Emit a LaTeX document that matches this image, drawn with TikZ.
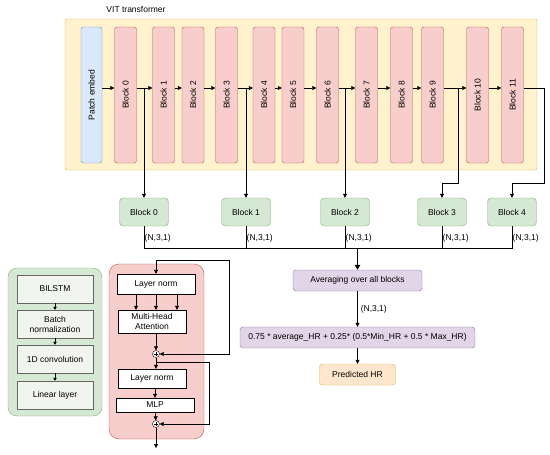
\documentclass[tikz,border=0pt]{standalone}
\usepackage{fontspec}
\setmainfont{Liberation Sans}
\usepackage{tikz}
\usetikzlibrary{arrows.meta,positioning,shapes.geometric}

\definecolor{vitfill}{HTML}{FFF2CC}
\definecolor{vitdraw}{HTML}{D6B656}
\definecolor{blkfill}{HTML}{F8CECC}
\definecolor{blkdraw}{HTML}{B85450}
\definecolor{embfill}{HTML}{DAE8FC}
\definecolor{embdraw}{HTML}{6C8EBF}
\definecolor{grnfill}{HTML}{D5E8D4}
\definecolor{grndraw}{HTML}{82B366}
\definecolor{purfill}{HTML}{E1D5E7}
\definecolor{purdraw}{HTML}{9673A6}
\definecolor{orgfill}{HTML}{FFE6CC}
\definecolor{orgdraw}{HTML}{D6B656}
\definecolor{gryfill}{HTML}{F2F4F0}
\definecolor{grydraw}{HTML}{666666}

\begin{document}
\begin{tikzpicture}[
	x=1pt, y=-1pt,
	font=\fontsize{8.5}{10}\selectfont,
	vblock/.style={rectangle, rounded corners=2.5pt, draw=blkdraw, fill=blkfill, minimum width=22pt, minimum height=136pt, inner sep=0pt},
	outblock/.style={rectangle, rounded corners=4pt, draw=grndraw, fill=grnfill, minimum width=49pt, minimum height=28pt},
	proc/.style={rectangle, rounded corners=3pt, draw=purdraw, fill=purfill, minimum height=21pt, align=center, inner sep=1pt},
	layer/.style={rectangle, draw=grydraw, fill=gryfill, minimum width=76pt, minimum height=28pt, align=center, inner sep=1pt},
	enc/.style={rectangle, draw=black, fill=white, align=center, inner sep=1pt},
	plus/.style={circle, draw=black, fill=white, inner sep=0pt, minimum size=7pt},
	shape lbl/.style={inner sep=0.5pt, anchor=west},
	line/.style={-{Triangle[width=4pt,length=4pt]}, line width=0.6pt},
	bus/.style={line width=0.6pt}
]
\useasboundingbox (0,0) rectangle (550,455);

% ViT backbone
\node (title) at (136,9) {VIT transformer};
\node[rectangle, rounded corners=2pt, draw=vitdraw, fill=vitfill, minimum width=472pt, minimum height=151pt] (vit) at (301,94.5) {};
\node[vblock, draw=embdraw, fill=embfill, minimum width=21pt] (pe) at (91.5,95) {\rotatebox{90}{Patch embed}};
\node[vblock] (b0) at (125.5,95) {\rotatebox{90}{Block 0}};
\node[vblock] (b1) at (163.5,95) {\rotatebox{90}{Block 1}};
\node[vblock] (b2) at (193,95) {\rotatebox{90}{Block 2}};
\node[vblock] (b3) at (226.5,95) {\rotatebox{90}{Block 3}};
\node[vblock] (b4) at (264,95) {\rotatebox{90}{Block 4}};
\node[vblock] (b5) at (293,95) {\rotatebox{90}{Block 5}};
\node[vblock] (b6) at (327.5,95) {\rotatebox{90}{Block 6}};
\node[vblock] (b7) at (366.5,95) {\rotatebox{90}{Block 7}};
\node[vblock] (b8) at (401.5,95) {\rotatebox{90}{Block 8}};
\node[vblock] (b9) at (432.5,95) {\rotatebox{90}{Block 9}};
\node[vblock] (b10) at (477.5,95) {\rotatebox{90}{Block 10}};
\node[vblock] (b11) at (512.5,95) {\rotatebox{90}{Block 11}};

\draw[line] ([yshift=7pt]pe.east) -- ([yshift=7pt]b0.west);
\draw[line] ([yshift=7pt]b0.east) -- ([yshift=7pt]b1.west);
\draw[line] ([yshift=7pt]b1.east) -- ([yshift=7pt]b2.west);
\draw[line] ([yshift=7pt]b2.east) -- ([yshift=7pt]b3.west);
\draw[line] ([yshift=7pt]b3.east) -- ([yshift=7pt]b4.west);
\draw[line] ([yshift=7pt]b4.east) -- ([yshift=7pt]b5.west);
\draw[line] ([yshift=7pt]b5.east) -- ([yshift=7pt]b6.west);
\draw[line] ([yshift=7pt]b6.east) -- ([yshift=7pt]b7.west);
\draw[line] ([yshift=7pt]b7.east) -- ([yshift=7pt]b8.west);
\draw[line] ([yshift=7pt]b8.east) -- ([yshift=7pt]b9.west);
\draw[line] ([yshift=7pt]b9.east) -- ([yshift=7pt]b10.west);
\draw[line] ([yshift=7pt]b10.east) -- ([yshift=7pt]b11.west);

% selected block outputs
\node[outblock] (g0) at (144,212) {Block 0};
\node[outblock] (g1) at (246,212) {Block 1};
\node[outblock] (g2) at (345,212) {Block 2};
\node[outblock] (g3) at (442,212) {Block 3};
\node[outblock] (g4) at (512,212) {Block 4};

\coordinate (t0) at (144,88);
\coordinate (t3) at (246,88);
\coordinate (t6) at (345,88);
\coordinate (t9) at (458,88);
\coordinate (t11) at (544,88);
\draw[line] (t0) -- (g0);
\draw[line] (t3) -- (g1);
\draw[line] (t6) -- (g2);
\draw[line] (t9) -- ++(0,95) -| (g3);
\draw[line] ([yshift=7pt]b11.east) -- (t11) -- ++(0,95) -| (g4);

% merge of the five outputs
\coordinate (busL) at (144,248);
\coordinate (busR) at (512,248);
\draw[bus] (g0.south) -- (busL) -- (busR) -- (g4.south);
\draw[bus] (g1.south) -- (g1.south |- busL);
\draw[bus] (g2.south) -- (g2.south |- busL);
\draw[bus] (g3.south) -- (g3.south |- busL);
\node[shape lbl] (n0) at ([yshift=-12pt]g0.south) {(N,3,1)};
\node[shape lbl] (n1) at ([yshift=-12pt]g1.south) {(N,3,1)};
\node[shape lbl] (n2) at ([yshift=-12pt]g2.south) {(N,3,1)};
\node[shape lbl] (n3) at ([yshift=-12pt]g3.south) {(N,3,1)};
\node[shape lbl] (n4) at ([yshift=-12pt]g4.south) {(N,3,1)};

\node[proc, minimum width=129pt] (avg) at (357.5,280.5) {Averaging over all blocks};
\node[proc, minimum width=235pt] (form) at (357.5,337.5) {0.75 * average\_HR + 0.25* (0.5*Min\_HR + 0.5 * Max\_HR)};
\node[proc, draw=orgdraw, fill=orgfill, minimum width=76pt] (pred) at (357.5,374.5) {Predicted HR};

\draw[line, line width=1.2pt, -{Triangle[width=5.5pt,length=5pt]}] (avg.north |- busL) -- (avg);
\draw[line] (avg) -- node[right, inner sep=3pt] {(N,3,1)} (form);
\draw[line] (form) -- (pred);

% BiLSTM head
\node[rectangle, rounded corners=9pt, draw=grndraw, fill=grnfill, minimum width=94pt, minimum height=148pt] (head) at (55,342) {};
\node[layer] (lstm) at (55,289) {BILSTM};
\node[layer] (bn) at (55,324) {Batch\\normalization};
\node[layer] (conv) at (55,359) {1D convolution};
\node[layer] (lin) at (55,395) {Linear layer};
\draw[line, -{Triangle[width=3.5pt,length=3pt]}] (lstm) -- (bn);
\draw[line, -{Triangle[width=3.5pt,length=3pt]}] (bn) -- (conv);
\draw[line, -{Triangle[width=3.5pt,length=3pt]}] (conv) -- (lin);

% transformer block detail
\node[rectangle, rounded corners=10pt, draw=blkdraw, fill=blkfill, minimum width=95pt, minimum height=175pt] (tb) at (156.5,351.5) {};
\node[enc, minimum width=78pt, minimum height=20pt] (ln1) at (156,284) {Layer norm};
\node[enc, minimum width=68pt, minimum height=23pt] (mha) at (152,321.5) {Multi-Head\\Attention};
\node[plus] (p1) at (156,354) {};
\node[enc, minimum width=68pt, minimum height=19pt] (ln2) at (152,378.5) {Layer norm};
\node[enc, minimum width=78pt, minimum height=14pt] (mlp) at (155,405) {MLP};
\node[plus] (p2) at (156,424) {};
\draw[line width=0.4pt] ([xshift=-2pt]p1.center) -- ([xshift=2pt]p1.center) ([yshift=-2pt]p1.center) -- ([yshift=2pt]p1.center);
\draw[line width=0.4pt] ([xshift=-2pt]p2.center) -- ([xshift=2pt]p2.center) ([yshift=-2pt]p2.center) -- ([yshift=2pt]p2.center);

\coordinate (tin) at (156,260);
\coordinate (r2) at (156,362);
\coordinate (tout) at (156,448);
\draw[line] (tin) -- (ln1);
\draw[line] (tin) -- ++(73,0) |- (p1);
\draw[line] ([xshift=-20pt]ln1.south) -- ([xshift=-20pt]ln1.south |- mha.north);
\draw[line] (ln1.south) -- (ln1.south |- mha.north);
\draw[line] ([xshift=21pt]ln1.south) -- ([xshift=21pt]ln1.south |- mha.north);
\draw[line] (mha.south -| p1) -- (p1);
\draw[line] (p1) -- (p1 |- ln2.north);
\draw[line] (r2) -- ++(53,0) |- (p2);
\draw[line] (ln2.south -| mlp) -- (mlp);
\draw[line] (mlp) -- (p2);
\draw[line] (p2) -- (tout);
\end{tikzpicture}
\end{document}
